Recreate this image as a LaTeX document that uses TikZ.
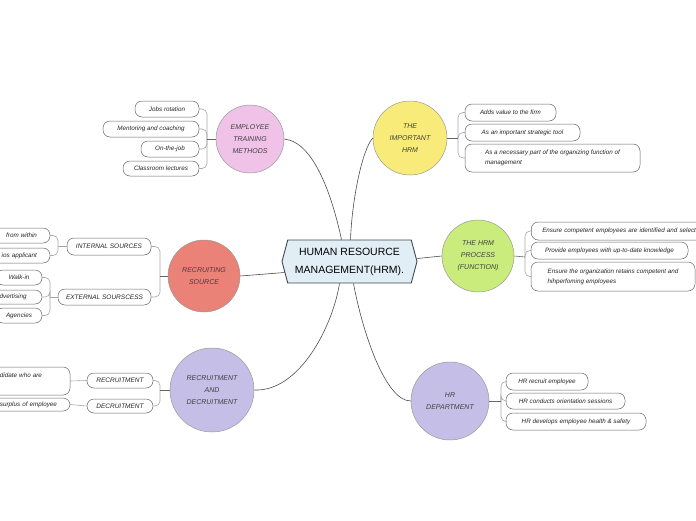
\documentclass[tikz,border=0pt]{standalone}
\usepackage{fontspec}
\setmainfont{Liberation Sans}
\usetikzlibrary{shapes.symbols}
\definecolor{cpink}{RGB}{240,194,232}
\definecolor{cyellow}{RGB}{248,235,122}
\definecolor{csalmon}{RGB}{234,130,119}
\definecolor{cgreen}{RGB}{201,236,124}
\definecolor{clav}{RGB}{197,190,230}
\definecolor{ccentre}{RGB}{226,238,245}
\definecolor{cborder}{RGB}{62,72,82}
\begin{document}
\begin{tikzpicture}[x=1pt,y=-1pt,
  topic/.style={circle, draw=black!40, line width=0.5pt, inner sep=0pt, align=center,
    font=\fontsize{7}{12}\selectfont\itshape, text=black!75},
  leaf/.style={draw=black!60, line width=0.5pt, rounded corners=7pt, fill=white, inner sep=0pt,
    font=\fontsize{6.3}{10}\selectfont\itshape, text=black!85},
  capleaf/.style={leaf, font=\fontsize{6.5}{10}\selectfont\itshape},
  br/.style={draw=black!35, line width=0.6pt, rounded corners=5pt},
  stem/.style={draw=black!60, line width=0.6pt},
  main/.style={draw=black!70, line width=0.6pt}]
\useasboundingbox (0,0) rectangle (696,520);

% central node
\node[signal, signal to=west and east, signal pointer angle=150,
      minimum width=135pt, minimum height=43pt, inner sep=0pt,
      fill=ccentre, draw=cborder, line width=0.9pt, align=center,
      font=\fontsize{10.5}{19}\selectfont] (hrm) at (349.5,261.5)
      {\raisebox{-2pt}{HUMAN RESOURCE}\\\raisebox{-1pt}{MANAGEMENT(HRM).}};

% topic circles
\node[topic, fill=cpink, minimum size=68pt] (etm) at (250,139) {EMPLOYEE\\TRAINING\\METHODS};
\node[topic, fill=cyellow, minimum size=74pt] (imp) at (410,138) {THE\\IMPORTANT\\HRM};
\node[topic, fill=csalmon, minimum size=72pt] (rs) at (204,276) {RECRUITING\\SOURCE};
\node[topic, fill=cgreen, minimum size=72pt] (proc) at (478,256) {THE HRM\\PROCESS\\(FUNCTION)};
\node[topic, fill=clav, minimum size=84pt] (rd) at (212,390) {RECRUITMENT\\AND\\DECRUITMENT};
\node[topic, fill=clav, minimum size=78pt] (hrd) at (450,401) {HR\\DEPARTMENT};

% main connectors
\draw[main] (etm.east) .. controls (315,142) and (333,200) .. ([xshift=-8pt]hrm.north);
\draw[main] (imp.west) .. controls (362,150) and (352,200) .. ([xshift=1pt]hrm.north);
\draw[main] (rs.east) -- ([shift={(3pt,-11pt)}]hrm.west);
\draw[main] ([yshift=3pt]hrm.east) -- (proc.west);
\draw[main] ([xshift=-10pt]hrm.south) .. controls (333,325) and (300,392) .. (rd.east);
\draw[main] ([xshift=4pt]hrm.south) .. controls (362,330) and (385,401) .. (hrd.west);

% Employee training methods
\node[leaf, minimum width=64pt, minimum height=16pt] (l1) at (167,109) {Jobs rotation};
\node[leaf, minimum width=96pt, minimum height=16pt] (l2) at (151,129) {Mentoring and coaching};
\node[leaf, minimum width=58pt, minimum height=16pt] (l3) at (170,149) {On-the-job};
\node[leaf, minimum width=76pt, minimum height=15pt] (l4) at (161,168.5) {Classroom lectures};
\coordinate (jetm) at (207,139);
\foreach \n in {l1,l2,l3,l4} \draw[br] (\n.east) -| (jetm);
\draw[stem] (jetm) -- (etm.west);

% The important HRM
\node[leaf, minimum width=91pt, minimum height=17pt] (r1) at (510.5,112.5) {Adds value to the firm};
\node[leaf, minimum width=115pt, minimum height=17pt] (r2) at (522.5,132.5) {As an important strategic tool};
\node[leaf, minimum width=175pt, minimum height=28pt, align=left] (r3) at (552.5,158)
  {As a necessary part of the organizing function of\\management};
\coordinate (jimp) at (458,138);
\foreach \n in {r1,r2,r3} \draw[br] (\n.west) -| (jimp);
\draw[stem] (imp.east) -- (jimp);

% The HRM process
\node[leaf, text width=190pt, minimum height=18pt, align=left, anchor=west] (p1) at (531,231)
  {\hspace*{11pt}Ensure competent employees are identified and selected};
\node[leaf, minimum width=157pt, minimum height=17pt] (p2) at (609.5,250.5) {Provide employees with up-to-date knowledge};
\node[leaf, minimum width=164pt, minimum height=29pt, align=left] (p3) at (613,276.5)
  {Ensure the organization retains competent and\\hihperfoming employees};
\coordinate (jproc) at (525,257);
\foreach \n in {p1,p2,p3} \draw[br] (\n.west) -| (jproc);
\draw[stem] (proc.east) -- (jproc);

% HR department
\node[leaf, minimum width=82pt, minimum height=17pt] (h1) at (547,381.5) {HR recruit employee};
\node[leaf, minimum width=119pt, minimum height=16pt] (h2) at (565.5,401) {HR conducts orientation sessions};
\node[leaf, minimum width=140pt, minimum height=17pt] (h3) at (576,421.5) {HR develops employee health \& safety};
\coordinate (jhrd) at (501,401);
\foreach \n in {h1,h2,h3} \draw[br] (\n.west) -| (jhrd);
\draw[stem] (hrd.east) -- (jhrd);

% Recruiting source
\node[capleaf, minimum width=84pt, minimum height=17pt] (i1) at (109,246.5) {INTERNAL SOURCES};
\node[capleaf, minimum width=93pt, minimum height=16pt] (i2) at (104.5,297) {EXTERNAL SOURSCESS};
\coordinate (jrs) at (160,276);
\foreach \n in {i1,i2} \draw[br] (\n.east) -| (jrs);
\draw[stem] (jrs) -- (rs.west);

\node[leaf, minimum width=90pt, minimum height=15pt, text width=64pt, align=right] (il1) at (5,235.5) {from within};
\node[leaf, minimum width=90pt, minimum height=15pt, text width=64pt, align=right] (il2) at (5,255.5) {ios applicant};
\coordinate (jint) at (58,246.5);
\foreach \n in {il1,il2} \draw[br] (\n.east) -| (jint);
\draw[br] (jint) -- (i1.west);

\node[leaf, minimum width=46pt, minimum height=15pt] (el1) at (19,277.5) {Walk-in};
\node[leaf, minimum width=62pt, minimum height=14pt] (el2) at (11,297) {Advertising};
\node[leaf, minimum width=46pt, minimum height=15pt] (el3) at (19,315.5) {Agencies};
\coordinate (jext) at (50,297);
\foreach \n in {el1,el2,el3} \draw[br] (\n.east) -| (jext);
\draw[br] (jext) -- (i2.west);

% Recruitment and decruitment
\node[capleaf, minimum width=66pt, minimum height=15pt] (rc1) at (120,380.5) {RECRUITMENT};
\node[capleaf, minimum width=66pt, minimum height=14pt] (rc2) at (120,406) {DECRUITMENT};
\coordinate (jrd) at (160,390);
\foreach \n in {rc1,rc2} \draw[br] (\n.east) -| (jrd);
\draw[stem] (jrd) -- (rd.west);

\node[leaf, minimum width=170pt, minimum height=28pt, text width=114pt, align=right] (rcl1) at (-15,381)
  {ndidate who are\\[1pt]\mbox{}};
\node[leaf, minimum width=130pt, minimum height=13pt, text width=104pt, align=right] (rcl2) at (5,404.5)
  {surplus of employee};
\draw[br] (rcl1.east) -- (rc1.west);
\draw[br] (rcl2.east) -- (rc2.west);
\end{tikzpicture}
\end{document}
